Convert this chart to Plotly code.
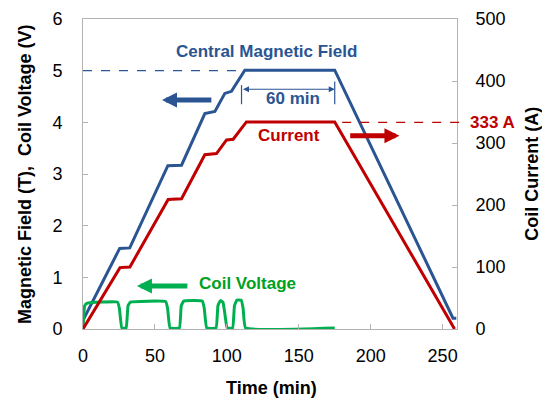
import plotly.graph_objects as go

# --- data ---
time_field = [0, 25.5, 32.5, 59, 68.5, 84.7, 91.7, 98.6, 103.2, 112.5, 175, 257.2, 259.5]
field_T = [0.17, 1.56, 1.57, 3.16, 3.17, 4.17, 4.21, 4.56, 4.6, 5.01, 5.01, 0.21, 0.21]

time_current = [0, 25.7, 32.6, 59.2, 68.5, 84.7, 92.8, 99.8, 104.4, 113.6, 175, 258.3]
current_A = [0, 99, 100, 209, 210, 281, 283, 305, 306, 334, 334, 0]

time_volt = [0, 1.2, 3, 24, 25.3, 27, 30, 31.3, 33, 57.5, 58.8, 60.5, 67, 68.3, 70, 83,
             84.3, 86, 92.5, 93.8, 95.5, 97.3, 98.6, 100.2, 104, 105.3, 107, 110, 111.3, 113, 175]
volt_V = [0, 0.45, 0.5, 0.52, 0.4, 0.02, 0.02, 0.45, 0.52, 0.53, 0.4, 0.02, 0.02, 0.45, 0.54, 0.54,
          0.4, 0.02, 0.02, 0.45, 0.55, 0.52, 0.3, 0.02, 0.02, 0.45, 0.56, 0.56, 0.4, 0.02, 0.02]

x_ticks = [0, 50, 100, 150, 200, 250]
y_ticks = [0, 1, 2, 3, 4, 5, 6]
y2_ticks = [0, 100, 200, 300, 400, 500]

BLUE = "#2A5592"
RED = "#C00000"
GREEN = "#00B050"
GREEN_TXT = "#00A020"
FRAME = "#B3B3B3"
FONT = "Liberation Sans, Arial, sans-serif"

fig = go.Figure()
fig.add_trace(go.Scatter(x=time_field, y=field_T, mode="lines",
                         line=dict(color=BLUE, width=3), showlegend=False))
fig.add_trace(go.Scatter(x=time_current, y=current_A, mode="lines", yaxis="y2",
                         line=dict(color=RED, width=3), showlegend=False))
fig.add_trace(go.Scatter(x=time_volt, y=volt_V, mode="lines",
                         line=dict(color=GREEN, width=3, shape="spline", smoothing=0.3),
                         showlegend=False))

axis_common = dict(showgrid=False, zeroline=False, showline=True, linecolor=FRAME,
                   linewidth=1, ticks="inside", ticklen=5, tickcolor=FRAME, automargin=False,
                   tickfont=dict(family=FONT, size=18, color="black"))

fig.update_layout(
    width=542, height=399,
    margin=dict(l=83, r=85, t=19, b=70),
    paper_bgcolor="white", plot_bgcolor="white",
    font=dict(family=FONT, color="black"),
    xaxis=dict(range=[0, 260], tickvals=x_ticks, mirror=True, ticklabelstandoff=10,
               **axis_common),
    yaxis=dict(range=[0, 6], tickvals=y_ticks, mirror=True, ticklabelstandoff=16,
               **axis_common),
    yaxis2=dict(range=[0, 500], tickvals=y2_ticks, overlaying="y", side="right",
                ticklabelstandoff=14, **axis_common),
)

# axis titles
title_font = dict(family=FONT, size=18, color="black")
fig.add_annotation(x=0.503, y=-0.229, xref="paper", yref="paper", showarrow=False,
                   text="<b>Time (min)</b>", font=title_font)
fig.add_annotation(x=-0.187, y=0.5, xref="paper", yref="paper", showarrow=False, textangle=-90,
                   text="<b>Magnetic Field (T),  Coil Voltage (V)</b>", font=title_font)
fig.add_annotation(x=1.232, y=0.5, xref="paper", yref="paper", showarrow=False, textangle=-90,
                   text="<b>Coil Current (A)</b>", font=title_font)

# dashed reference lines
fig.add_shape(type="line", xref="x", yref="y", x0=0, x1=111, y0=5.0, y1=5.0,
              line=dict(color=BLUE, width=1.2, dash="dash"))
fig.add_shape(type="line", xref="paper", yref="y", x0=0.693, x1=1.01, y0=4.0, y1=4.0,
              line=dict(color=RED, width=1.4, dash="dash"))

# 60 min bracket
fig.add_shape(type="line", xref="x", yref="y", x0=110.2, x1=110.2, y0=4.35, y1=4.72,
              line=dict(color=BLUE, width=1.2))
fig.add_shape(type="line", xref="x", yref="y", x0=175, x1=175, y0=4.35, y1=4.79,
              line=dict(color=BLUE, width=1.2))
fig.add_annotation(x=175, y=4.64, ax=110.2, ay=4.64, xref="x", yref="y", axref="x", ayref="y",
                   text="", showarrow=True, arrowhead=2, arrowside="end+start",
                   arrowsize=1, arrowwidth=1.2, arrowcolor=BLUE)

# thick direction arrows
fig.add_annotation(x=54.9, y=4.43, ax=90.3, ay=4.43, xref="x", yref="y", axref="x", ayref="y",
                   text="", showarrow=True, arrowhead=2, arrowsize=0.6, arrowwidth=5,
                   arrowcolor=BLUE)
fig.add_annotation(x=220, y=3.74, ax=184.7, ay=3.74, xref="x", yref="y", axref="x", ayref="y",
                   text="", showarrow=True, arrowhead=2, arrowsize=0.6, arrowwidth=5,
                   arrowcolor=RED)
fig.add_annotation(x=37.5, y=0.83, ax=73.6, ay=0.83, xref="x", yref="y", axref="x", ayref="y",
                   text="", showarrow=True, arrowhead=2, arrowsize=0.6, arrowwidth=5,
                   arrowcolor=GREEN)

# text labels
labels = [
    ("Central Magnetic Field", 127.8, 5.38, BLUE),
    ("60 min", 145.8, 4.47, BLUE),
    ("Current", 143.0, 3.74, RED),
    ("Coil Voltage", 114.6, 0.89, GREEN_TXT),
]
for txt, x, y, col in labels:
    fig.add_annotation(x=x, y=y, xref="x", yref="y", text=f"<b>{txt}</b>", showarrow=False,
                       font=dict(family=FONT, size=17, color=col))
fig.add_annotation(x=1.029, y=4.0, xref="paper", yref="y", xanchor="left",
                   text="<b>333 A</b>", showarrow=False,
                   font=dict(family=FONT, size=17, color=RED))

fig.write_html("out.html")
